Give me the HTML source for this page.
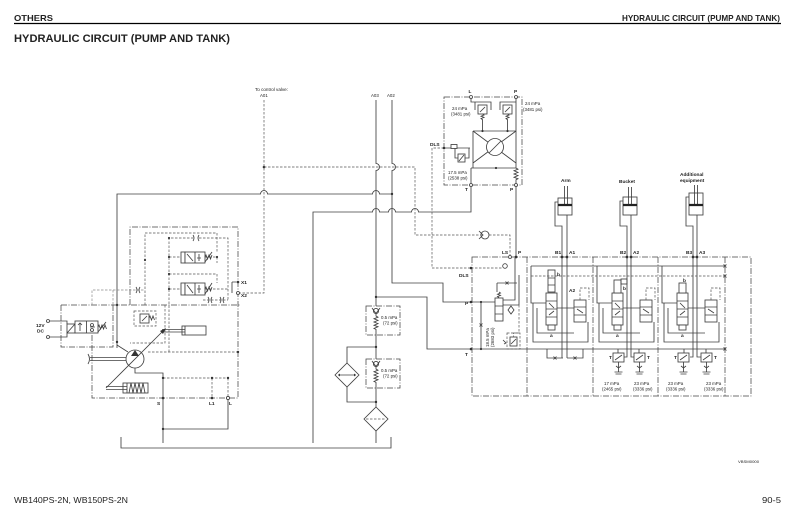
<!DOCTYPE html>
<html><head><meta charset="utf-8">
<style>
html,body{margin:0;padding:0;background:#fff;}
svg{display:block;}
.s{stroke:#404040;stroke-width:0.85;fill:none}
.w{stroke:#404040;stroke-width:0.85;fill:#fff}
.d{stroke:#555;stroke-width:0.7;stroke-dasharray:2.5 1.5;fill:none}
.g{stroke:#8a8a8a;stroke-width:0.7;stroke-dasharray:2.5 1.5;fill:none}
.dd{stroke:#444;stroke-width:0.75;stroke-dasharray:6 1.5 1 1.5;fill:none}
.f{fill:#333;stroke:none}
text{font-family:"Liberation Sans",Arial,sans-serif;fill:#222}
.l{font-size:4.4px}
.b{font-size:4.8px;font-weight:bold}
</style></head><body>
<svg width="795" height="524" viewBox="0 0 795 524" xmlns="http://www.w3.org/2000/svg">
<!-- header -->
<text x="14" y="21" font-size="8.5" font-weight="bold" textLength="39" lengthAdjust="spacingAndGlyphs">OTHERS</text>
<text x="622" y="21" font-size="8.5" font-weight="bold" textLength="158" lengthAdjust="spacingAndGlyphs">HYDRAULIC CIRCUIT (PUMP AND TANK)</text>
<line x1="14" y1="23.5" x2="781" y2="23.5" stroke="#000" stroke-width="1.2"/>
<text x="14" y="42" font-size="11" font-weight="bold" textLength="216" lengthAdjust="spacingAndGlyphs">HYDRAULIC CIRCUIT (PUMP AND TANK)</text>
<!-- footer -->
<text x="738" y="463" font-size="4" textLength="21" lengthAdjust="spacingAndGlyphs">VBSM0000</text>
<text x="14" y="503" font-size="8" textLength="114" lengthAdjust="spacingAndGlyphs">WB140PS-2N, WB150PS-2N</text>
<text x="762" y="503" font-size="8" textLength="19" lengthAdjust="spacingAndGlyphs">90-5</text>

<!-- top labels -->
<text x="255" y="91" class="l" textLength="33" lengthAdjust="spacingAndGlyphs">To control valve:</text>
<text x="260" y="97" class="l">A01</text>
<text x="371" y="97" class="l">A03</text>
<text x="387" y="97" class="l">A02</text>

<!-- main solid lines -->
<g class="s">
 <path d="M117,348 V194 H260.5 a3.5,3.5 0 0 1 7,0 H372.5 a3.5,3.5 0 0 1 7,0 H392"/>
 <path d="M376,100 V163.5 a3.5,3.5 0 0 1 0,7 V306"/>
 <path d="M392,100 V163.5 a3.5,3.5 0 0 1 0,7 V283 H443 V302 H471"/>
 <path d="M313,443 V212 H372.5 a3.5,3.5 0 0 1 7,0 H388.5 a3.5,3.5 0 0 1 7,0 H411.5 a3.5,3.5 0 0 1 7,0 H471 V185"/>
 <path d="M376,297 H427 V349 H471"/>
 <path d="M376,335 V359 M376,388 V407 M376,431 V443"/>
 <path d="M376,347 H347 V363 M347,387 V402 H376"/>
 <path d="M121,437 V448 H391 V437"/>
 <path d="M135,368 V373 H163 V443 M163,429 H228 V399.8"/>
 <path d="M117,345 L128,352"/>
 <path d="M516,185 V258"/>
</g>
<g class="f">
 <circle cx="392" cy="194" r="1.2"/><circle cx="376" cy="297" r="1.2"/>
 <circle cx="376" cy="347" r="1.2"/><circle cx="376" cy="402" r="1.2"/>
 <circle cx="163" cy="429" r="1.2"/><circle cx="264" cy="167" r="1.3"/>
 <circle cx="117" cy="305" r="1.2"/><circle cx="117" cy="342" r="1.2"/>
</g>

<!-- dashed pilot lines -->
<g class="d">
 <path d="M264,100 V293 H238"/>
 <path d="M264,167 H415 V235 H481"/>
 <path d="M489,235 H510 V258"/>
 <path d="M444,148 H432 V268 H471"/>
</g>
<g class="s"><circle cx="485" cy="235" r="4" fill="#fff"/><path d="M479,231 L483,235 L479,239"/></g>

<!-- check valves / filters -->
<g class="dd"><rect x="366" y="306" width="34" height="29"/><rect x="366" y="359" width="34" height="29"/></g>
<g class="s">
 <circle cx="376" cy="311" r="2.6"/><path d="M372,308 L376,313.5 L380,308"/>
 <path d="M376,314 V316 l2,1.2 l-4,1.6 l4,1.6 l-4,1.6 l4,1.6 l-4,1.6 l4,1.6 l-4,1.6 l2,1 V335"/>
 <circle cx="376" cy="364" r="2.6"/><path d="M372,361 L376,366.5 L380,361"/>
 <path d="M376,367 V369 l2,1.2 l-4,1.6 l4,1.6 l-4,1.6 l4,1.6 l-4,1.6 l4,1.6 l-4,1.6 l2,1 V388"/>
 <polygon points="376,407 388,419 376,431 364,419" fill="#fff"/>
 <polygon points="347,363 359,375 347,387 335,375" fill="#fff"/>
 <path d="M338,375 H356"/>
</g>
<path d="M366,419 H386" class="d"/>
<path d="M338,375 l2,-1.5 v3 z M356,375 l-2,-1.5 v3 z" class="f"/>
<text x="381" y="319" class="l">0.5 mPa</text><text x="383" y="324.5" class="l">(72 psi)</text>
<text x="381" y="372" class="l">0.5 mPa</text><text x="383" y="377.5" class="l">(72 psi)</text>

<!-- pump block -->
<g class="dd">
 <path d="M130,305 V227 H238 V398 H92 V334"/>
 <path d="M61,305 H240"/>
 <path d="M61,305 V347 H113 V305"/>
</g>
<g class="g"><path d="M92,305 V290 H145"/><path d="M113,290 V305"/></g>
<g class="d">
 <path d="M145,305 V233 H217 V252"/>
 <path d="M169,352 V238 H193 M199,238 H228 V300"/>
 <path d="M169,257 H185 M205,257 H217 V263"/>
 <path d="M169,274 H217 V283"/>
 <path d="M169,289 H185 M205,289 H228"/>
 <path d="M203,300 H228"/>
 <path d="M148,352 H238"/>
 <path d="M163,378 H228 M212,378 V398 M228,378 V397"/>
 <path d="M165,305 V343 H130"/>
 <rect x="134" y="311" width="22" height="15"/>
</g>
<g class="s">
 <path d="M193,235 q2,3 0,6 M199,235 q-2,3 0,6"/>
 <path d="M136,287 q2,3 0,6 M140,287 q-2,3 0,6"/>
 <path d="M208,297 q2,3 0,6 M212,297 q-2,3 0,6 M220,297 q2,3 0,6 M224,297 q-2,3 0,6"/>
 <!-- solenoid valves -->
 <rect x="181" y="252" width="4" height="11" fill="#fff"/>
 <rect x="185" y="252" width="20" height="11" fill="#fff"/><path d="M195,252 V263 M187,254 L193,261 M199,254 V261 M197,258 H201"/>
 <path d="M205,257 l1,-2 l1.5,4 l1.5,-4 l1.5,4 l1.5,-4 M205,262 L212,252"/>
 <rect x="181" y="283" width="4" height="12" fill="#fff"/>
 <rect x="185" y="283" width="20" height="12" fill="#fff"/><path d="M195,283 V295 M187,285 L193,293 M199,285 V293 M197,289 H201"/>
 <path d="M205,289 l1,-2 l1.5,4 l1.5,-4 l1.5,4 l1.5,-4 M205,294 L212,283"/>
 <!-- relief -->
 <rect x="140" y="314" width="9" height="9" fill="#fff"/><path d="M142,321 L147,316 M149,318 l1,-2 l1.5,4 l1.5,-4 l1.5,4"/>
 <!-- cylinder -->
 <rect x="182" y="326" width="24" height="9" fill="#fff"/>
 <path d="M162,329.5 H185 M162,332 H185 M185,326 V335"/>
 <!-- pump -->
 <circle cx="135" cy="359" r="9" fill="#fff"/>
 <path d="M106,388 L164,330"/>
 <path d="M90,357.5 H126 M90,360.5 H126 M88,354 q3,5 0,10"/>
 <rect x="123" y="383" width="25" height="10" fill="#fff"/>
 <path d="M127,383 V393 M106,386.5 H127 M106,389.5 H127"/>
 <path d="M129,393 l2,-10 l2,10 l2,-10 l2,10 l2,-10 l2,10 l2,-10 l2,10"/>
 <!-- 12V -->
 <circle cx="48" cy="321" r="1.5"/><circle cx="48" cy="337" r="1.5"/>
 <path d="M49.5,321 H67 V324 M49.5,337 H67 V333"/>
 <rect x="67" y="324" width="8" height="9" fill="#fff"/><path d="M67,333 L75,324"/>
 <rect x="75" y="321" width="23" height="12" fill="#fff"/>
 <path d="M86.5,321 V333 M80,323 V331 M78,325 l2,-2 l2,2 M90,327 h5"/>
 <circle cx="92" cy="325" r="1.5"/><circle cx="92" cy="330" r="1.5"/>
 <path d="M98,327 l1,-2 l1.5,4 l1.5,-4 l1.5,4 l1.5,-4 l1.5,4 M98,332 L106,322"/>
 <path d="M232,282 H236.5 M232,282 V293"/>
 <circle cx="238" cy="293" r="1.5" fill="#fff"/>
 <circle cx="228" cy="398" r="1.6" fill="#fff"/>
</g>
<g class="f">
 <polygon points="135,350 131,356 139,356"/>
 <polygon points="166,328 160,331 163,334"/>
 <circle cx="238" cy="282" r="1.3"/><circle cx="238" cy="352" r="1.2"/>
 <circle cx="163" cy="378" r="1.2"/><circle cx="212" cy="378" r="1.2"/><circle cx="228" cy="378" r="1.2"/>
 <circle cx="163" cy="398" r="1.3"/><circle cx="212" cy="398" r="1.3"/>
 <circle cx="145" cy="260" r="1.1"/><circle cx="169" cy="257" r="1.1"/><circle cx="169" cy="274" r="1.1"/>
 <circle cx="169" cy="289" r="1.1"/><circle cx="217" cy="257" r="1.1"/><circle cx="169" cy="238" r="1.1"/>
</g>
<text x="36" y="327" class="b">12V</text><text x="37" y="332.5" class="b">DC</text>
<text x="241" y="284" class="b">X1</text><text x="241" y="297" class="b">X2</text>
<text x="157" y="405" class="b">S</text><text x="209" y="405" class="b">L1</text><text x="229" y="405" class="b">L</text>

<!-- top valve -->
<rect x="444" y="97" width="78" height="88" class="dd"/>
<g class="s">
 <path d="M471,98.5 V102 H475 V110 M475,102 H491 V110"/>
 <path d="M500,110 V102 H516"/>
 <rect x="478" y="105" width="9" height="9" fill="#fff"/><path d="M480,112 L485,107"/>
 <rect x="503" y="105" width="9" height="9" fill="#fff"/><path d="M505,112 L510,107"/>
 <path d="M482.5,114 l1.5,1 l-3,1.2 l3,1.2 l-3,1.2 l1.5,1 V131 M507.5,114 l1.5,1 l-3,1.2 l3,1.2 l-3,1.2 l1.5,1 V131"/>
 <path d="M473,131 H516 M473,131 V168 M473,131 L516,163 M516,131 L473,163"/>
 <path d="M516,98.5 V168 l2,1.2 l-4,1.6 l4,1.6 l-4,1.6 l4,1.6 l-4,1.6 l4,1.6 l-2,1 V183.5"/>
 <circle cx="495" cy="147" r="8.5" fill="#fff"/><path d="M489,153 L501,141"/>
 <path d="M471,168 H516 M471,168 V183.5"/>
 <path d="M444,148 H470"/>
 <rect x="451" y="144.5" width="6" height="4" fill="#fff"/>
 <path d="M455,148 V158 H458"/>
 <rect x="458" y="154" width="7" height="8" fill="#fff"/><path d="M459,161 L464,155 M465,158 H469 V148"/>
 <circle cx="471" cy="97" r="1.5" fill="#fff"/><circle cx="516" cy="97" r="1.5" fill="#fff"/>
 <circle cx="471" cy="185" r="1.5" fill="#fff"/><circle cx="516" cy="185" r="1.5" fill="#fff"/>
</g>
<g class="f"><circle cx="444" cy="148" r="1.3"/><circle cx="496" cy="168" r="1.1"/><circle cx="482.5" cy="131" r="1.1"/><circle cx="507.5" cy="131" r="1.1"/></g>
<text x="468.5" y="93" class="b">L</text><text x="514" y="93" class="b">P</text>
<text x="465" y="191" class="b">T</text><text x="510" y="191" class="b">P</text>
<text x="430" y="146" class="b">DLS</text>
<text x="452" y="110" class="l">24 mPa</text><text x="451" y="115.5" class="l">(3481 psi)</text>
<text x="525" y="105" class="l">24 mPa</text><text x="523" y="111" class="l">(3481 psi)</text>
<text x="448" y="174" class="l">17.5 mPa</text><text x="448" y="179.5" class="l">(2538 psi)</text>

<!-- cylinders -->
<g class="s">
 <rect x="558" y="198" width="14" height="17"/><path d="M564.5,186 V204 M567.5,186 V204"/>
 <rect x="623" y="197" width="14" height="18"/><path d="M628.5,187 V204 M631.5,187 V204"/>
 <rect x="689" y="193" width="14" height="22"/><path d="M694.5,185 V204 M697.5,185 V204"/>
 <path d="M558,202 H555 V226 H562 V358 M567,215 V358"/>
 <path d="M623,201 H620 V226 H627 V357 H624 M631,215 V357 H634"/>
 <path d="M689,197 H686 V226 H693 V357 H690 M697,215 V357 H701"/>
</g>
<g stroke="#222" stroke-width="2.2"><path d="M558,205 H572 M623,205 H637 M689,205 H703"/></g>
<text x="561" y="182" class="b">Arm</text>
<text x="619" y="183" class="b">Bucket</text>
<text x="680" y="176" class="b">Additional</text><text x="680" y="182" class="b">equipment</text>

<!-- main valve block -->
<g class="dd">
 <rect x="472" y="257" width="279" height="139"/>
 <path d="M527,257 V396 M593,257 V396 M658,257 V396 M725,257 V396"/>
</g>
<g class="s">
 <path d="M531,266 H725 M471,302 H495 M481,302 V349 M471,349 H725"/>
 <path d="M479.5,323.5 l3,3 m0,-3 l-3,3"/>
 <path d="M723.5,264.5 l3,3 m0,-3 l-3,3 M723.5,274.5 l3,3 m0,-3 l-3,3 M723.5,347.5 l3,3 m0,-3 l-3,3"/>
 <!-- inlet -->
 <path d="M515,258 V300 H503 M519,275 V305 H503"/>
 <path d="M497,283 H517 M497,283 V292 M505.5,281.5 l3,3 m0,-3 l-3,3"/>
 <rect x="495" y="298" width="8" height="23" fill="#fff"/><path d="M495,306 H503 M495,314 H503 M499,292 l1.5,1 l-3,1.2 l3,1.2 l-3,1.2 l1.5,1"/>
 <polygon points="511,306 514,310 511,314 508,310" fill="#fff"/>
 <rect x="510" y="337" width="7" height="9" fill="#fff"/><path d="M511,344 L516,339 M503,340 l3,3 l-2,1"/>
 <circle cx="510" cy="257" r="1.5" fill="#fff"/>
 <circle cx="505" cy="266" r="2.3" fill="#fff"/>
 <!-- arm section -->
 <path d="M531,266 V303 H546 M533,303 V342 H588 V322 M537,308 V333 H574 M557,308 H574"/>
 <rect x="546" y="293" width="11" height="32" fill="#fff"/><path d="M546,301 H557 M546,309 H557 M546,317 H557 M549,303 L554,308 M554,311 L549,315"/>
 <rect x="548" y="270" width="7" height="22" fill="#fff"/><path d="M548,278 H555 M548,285 H555"/>
 <rect x="548" y="325" width="7" height="5" fill="#fff"/>
 <rect x="574" y="300" width="12" height="22" fill="#fff"/><path d="M574,307 H586 M574,315 H586 M577,309 L583,313"/>
 <path d="M547,349 V358 H563 M567,358 H583 V349 M553.5,356.5 l3,3 m0,-3 l-3,3 M573.5,356.5 l3,3 m0,-3 l-3,3"/>
 <!-- bucket section -->
 <path d="M597,266 V303 H612 M599,303 V342 H654 V322 M603,308 V333 H640 M623,308 H640"/>
 <rect x="612" y="293" width="11" height="32" fill="#fff"/><path d="M612,301 H623 M612,309 H623 M612,317 H623 M615,303 L620,308 M620,311 L615,315"/>
 <rect x="614" y="280" width="7" height="13" fill="#fff"/><rect x="621" y="279" width="6" height="5"/>
 <rect x="614" y="325" width="7" height="5" fill="#fff"/>
 <rect x="640" y="300" width="12" height="22" fill="#fff"/><path d="M640,307 H652 M640,315 H652 M643,309 L649,313"/>
 <!-- additional section -->
 <path d="M662,266 V303 H677 M664,303 V342 H719 V322 M668,308 V333 H705 M688,308 H705"/>
 <rect x="677" y="293" width="11" height="32" fill="#fff"/><path d="M677,301 H688 M677,309 H688 M677,317 H688 M680,303 L685,308 M685,311 L680,315"/>
 <rect x="679" y="283" width="7" height="10" fill="#fff"/>
 <rect x="679" y="325" width="7" height="5" fill="#fff"/>
 <rect x="705" y="300" width="12" height="22" fill="#fff"/><path d="M705,307 H717 M705,315 H717 M708,309 L714,313"/>
 <!-- bottom reliefs -->
 <path d="M618,349 V353 M639,349 V353 M684,349 V353 M706,349 V353"/>
 <rect x="613" y="353" width="11" height="9" fill="#fff"/><rect x="634" y="353" width="11" height="9" fill="#fff"/>
 <rect x="678" y="353" width="11" height="9" fill="#fff"/><rect x="701" y="353" width="11" height="9" fill="#fff"/>
 <path d="M618.5,362 V372 M614.5,372 H622.5 M615.5,374 H621.5 M639.5,362 V372 M635.5,372 H643.5 M636.5,374 H642.5"/>
 <path d="M683.5,362 V372 M679.5,372 H687.5 M680.5,374 H686.5 M706.5,362 V372 M702.5,372 H710.5 M703.5,374 H709.5"/>
 <path d="M615,360 L622,355 M636,360 L643,355 M680,360 L687,355 M703,360 L710,355"/>
 <path d="M616,366 l2.5,2 l2.5,-2 M637,366 l2.5,2 l2.5,-2 M681,366 l2.5,2 l2.5,-2 M704,366 l2.5,2 l2.5,-2"/>
</g>
<g class="d">
 <path d="M471,268 H502"/>
 <path d="M519,305 V333 H513.5 V337"/>
 <path d="M531,276 H725"/>
 <path d="M580,300 V288 H589 V300"/>
 <path d="M646,300 V288 H655 V300"/>
 <path d="M711,300 V288 H720 V300"/>
 <path d="M507,333 H520 V349 H507 Z"/>
</g>
<g class="f">
 <circle cx="471" cy="268" r="1.3"/><circle cx="471" cy="302" r="1.3"/><circle cx="471" cy="349" r="1.3"/>
 <circle cx="516" cy="257" r="1.4"/>
 <circle cx="562" cy="257" r="1.4"/><circle cx="567" cy="257" r="1.4"/>
 <circle cx="627" cy="257" r="1.4"/><circle cx="631" cy="257" r="1.4"/>
 <circle cx="693" cy="257" r="1.4"/><circle cx="697" cy="257" r="1.4"/>
 <circle cx="481" cy="302" r="1.1"/><circle cx="481" cy="349" r="1.1"/>
</g>
<text x="502" y="254" class="b">LS</text><text x="518" y="254" class="b">P</text>
<text x="555" y="254" class="b">B1</text><text x="569" y="254" class="b">A1</text>
<text x="620" y="254" class="b">B2</text><text x="633" y="254" class="b">A2</text>
<text x="686" y="254" class="b">B3</text><text x="699" y="254" class="b">A3</text>
<text x="459" y="277" class="b">DLS</text>
<text x="465" y="305" class="b">P</text><text x="465" y="356" class="b">T</text>
<text x="569" y="292" class="b">A2</text>
<text x="557" y="276" class="b">b</text><text x="623" y="290" class="b">b</text><text x="683" y="282" class="b">b</text>
<text x="550" y="337" class="b">a</text><text x="616" y="337" class="b">a</text><text x="681" y="337" class="b">a</text>
<text transform="translate(489,347) rotate(-90)" class="l">18.5 mPa</text>
<text transform="translate(494,347) rotate(-90)" class="l">(2683 psi)</text>
<text x="609" y="359" class="b">T</text><text x="647" y="359" class="b">T</text>
<text x="674" y="359" class="b">T</text><text x="714" y="359" class="b">T</text>
<text x="604" y="385" class="l">17 mPa</text><text x="602" y="390.5" class="l">(2465 psi)</text>
<text x="634" y="385" class="l">23 mPa</text><text x="633" y="390.5" class="l">(3336 psi)</text>
<text x="668" y="385" class="l">23 mPa</text><text x="666" y="390.5" class="l">(3336 psi)</text>
<text x="706" y="385" class="l">23 mPa</text><text x="704" y="390.5" class="l">(3336 psi)</text>
</svg>
</body></html>
